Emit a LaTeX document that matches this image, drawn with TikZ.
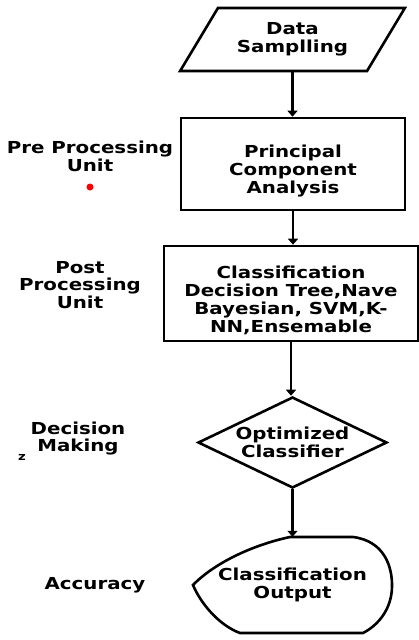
\documentclass[tikz,border=0pt]{standalone}
\usepackage{fontspec}
\setmainfont{DejaVu Sans}[FakeStretch=1.2]
\usetikzlibrary{positioning,arrows.meta,shapes.geometric,calc}

\begin{document}
\begin{tikzpicture}[
  x=1pt, y=1pt,
  box/.style={draw, line width=2.6pt, align=center, inner sep=0pt,
              font=\bfseries\fontsize{16.5}{18}\selectfont},
  io/.style={box, trapezium, trapezium left angle=50, trapezium right angle=130,
             trapezium stretches=true},
  decide/.style={box, diamond, aspect=2.1},
  boxtext/.style={align=center, inner sep=0pt, font=\bfseries\fontsize{16.5}{18}\selectfont},
  side/.style={align=center, font=\bfseries\fontsize{16.5}{17.5}\selectfont},
  arrow/.style={-{Triangle[length=6pt,width=10pt]}, line width=2.6pt}
]
\useasboundingbox (0,0) rectangle (419,-640);

% flow column
\node[io, minimum width=225pt, minimum height=63pt] (data) at (292.5,-39.5) {Data\\Samplling};
\node[box, minimum width=224pt, minimum height=92pt] (pca) at (293,-164) {};
\node[boxtext, yshift=-7pt] (pcatext) at (pca.center) {Principal\\Component\\Analysis};
\node[box, minimum width=254pt, minimum height=95pt] (clf) at (291,-293.5) {};
\node[boxtext, yshift=-7pt] (clftext) at (clf.center) {Classification\\Decision Tree,Nave\\Bayesian, SVM,K-\\NN,Ensemable};
\node[decide, minimum width=189pt, minimum height=91pt] (opt) at (292.5,-442.5) {Optimized\\Classifier};
\node[boxtext, minimum width=199pt, minimum height=96pt] (out) at (292.5,-585) {Classification\\Output};
\draw[line width=2.6pt, shift={(out.center)}]
  (-2.5,48) -- (60.5,48) .. controls (92,44) and (100,18) .. (99.5,-2)
  .. controls (99,-24) and (86,-40) .. (70.5,-48) -- (-52.5,-48)
  .. controls (-74,-40) and (-92,-18) .. (-99.5,0)
  .. controls (-78,22) and (-40,40) .. (-2.5,48) -- cycle;

\draw[arrow] (data.south) -- (data.south |- pca.north);
\draw[arrow] (pca.south) -- (pca.south |- clf.north);
\draw[arrow] (clf.south) -- (clf.south |- opt.north);
\draw[arrow] (opt.south) -- (opt.south |- out.north);

% stage names on the left
\node[side] (pre) at (90,-156.5) {Pre Processing\\Unit};
\node[circle, fill=red, inner sep=0pt, minimum size=7pt] (dot) at (90,-187) {};
\node[side] (post) at (80,-285) {Post\\Processing\\Unit};
\node[side] (making) at (78,-438.5) {Decision\\Making};
\node[font=\bfseries\fontsize{11}{12}\selectfont] (zed) at (22,-457) {z};
\node[side] (acc) at (95,-585) {Accuracy};

\end{tikzpicture}
\end{document}
